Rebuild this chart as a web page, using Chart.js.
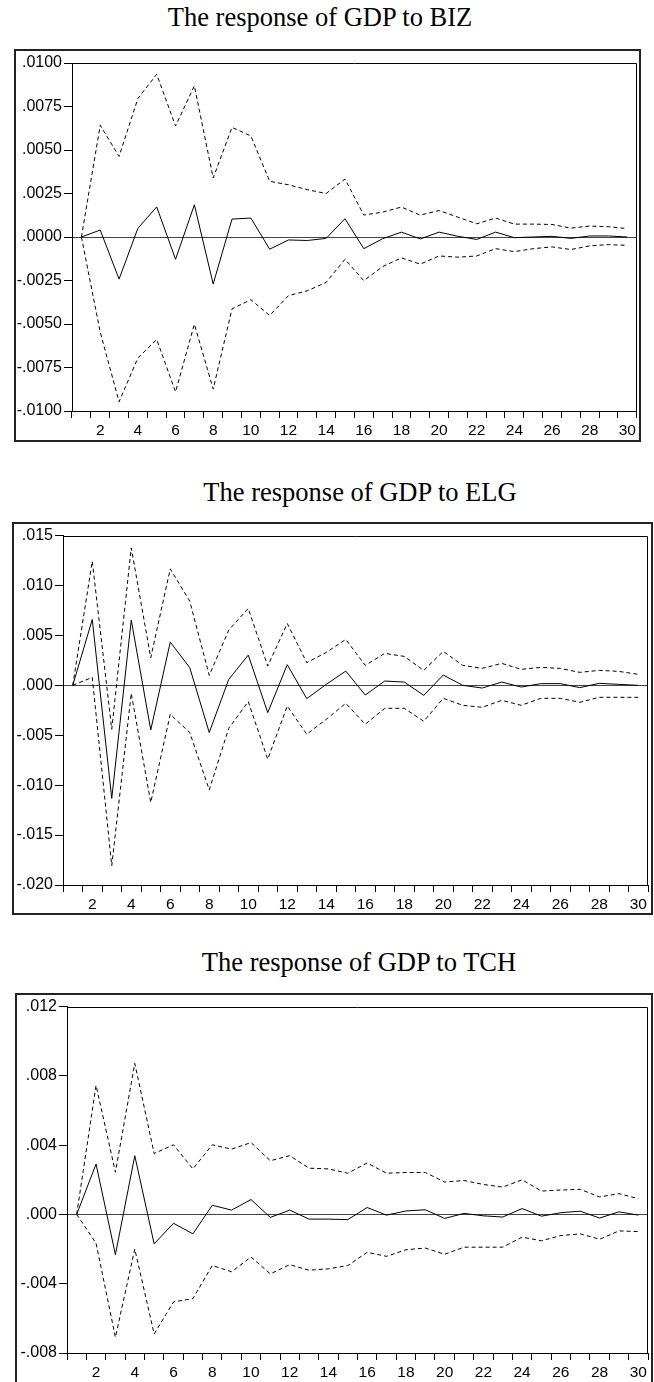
<!DOCTYPE html>
<html>
<head>
<meta charset="utf-8">
<script src="https://cdn.jsdelivr.net/npm/chart.js@4/dist/chart.umd.min.js"></script>
<style>
  html, body { margin: 0; padding: 0; background: #fff; }
  body { width: 654px; height: 1382px; position: relative; overflow: hidden; }
  .title {
    position: absolute; width: 400px; text-align: center; white-space: nowrap;
    font-family: "Liberation Serif", "Times New Roman", serif;
    font-size: 26.5px; line-height: 27px; color: #000;
  }
  .frame { position: absolute; box-sizing: border-box; border: 2px solid #222; }
  canvas { position: absolute; }
</style>
</head>
<body>
<div class="title" id="t1">The response of GDP to BIZ</div>
<div class="title" id="t2">The response of GDP to ELG</div>
<div class="title" id="t3">The response of GDP to TCH</div>
<div class="frame" id="f1"></div><canvas id="c1"></canvas>
<div class="frame" id="f2"></div><canvas id="c2"></canvas>
<div class="frame" id="f3"></div><canvas id="c3"></canvas>
<script>
// periods 1..30
const periods = [1, 2, 3, 4, 5, 6, 7, 8, 9, 10, 11, 12, 13, 14, 15,
                 16, 17, 18, 19, 20, 21, 22, 23, 24, 25, 26, 27, 28, 29, 30];

// GDP to BIZ
const bizResponse = [0, 0.0004, -0.00242, 0.0005, 0.00173, -0.00128, 0.00185, -0.0027, 0.00103, 0.00109,
  -0.0007, -0.00017, -0.0002, -0.00008, 0.00105, -0.00067, -0.0001, 0.00028, -0.00011, 0.00028,
  0.00004, -0.00014, 0.00028, -0.00004, 0, 0.00004, -0.00008, 0.00006, 0.00006, 0];
const bizUpper = [0, 0.00642, 0.00463, 0.00796, 0.00935, 0.00638, 0.00869, 0.00339, 0.0063, 0.00581,
  0.0032, 0.003, 0.00272, 0.0025, 0.00333, 0.00126, 0.00143, 0.00172, 0.00126, 0.00152,
  0.00114, 0.00076, 0.00109, 0.00074, 0.00074, 0.00072, 0.00051, 0.00063, 0.00059, 0.00048];
const bizLower = [0, -0.00547, -0.00947, -0.00695, -0.00589, -0.0089, -0.00501, -0.00874, -0.00413, -0.0036,
  -0.00451, -0.00337, -0.00309, -0.00261, -0.00128, -0.00251, -0.0017, -0.0012, -0.00156, -0.00109,
  -0.00116, -0.00109, -0.00067, -0.00084, -0.00067, -0.00057, -0.00072, -0.00051, -0.00044, -0.00048];
const bizTickValues = [-0.01, -0.0075, -0.005, -0.0025, 0, 0.0025, 0.005, 0.0075, 0.01];
const bizTickLabels = ['-.0100', '-.0075', '-.0050', '-.0025', '.0000', '.0025', '.0050', '.0075', '.0100'];

// GDP to ELG
const elgResponse = [0, 0.0066, -0.01133, 0.00653, -0.00447, 0.00433, 0.00177, -0.00473, 0.0006, 0.00303,
  -0.00273, 0.00207, -0.00133, 0.0001, 0.00143, -0.00097, 0.00043, 0.00033, -0.001, 0.00103,
  0, -0.00027, 0.00033, -0.00017, 0.00017, 0.00017, -0.00023, 0.0002, 0.0001, 0];
const elgUpper = [0, 0.01243, -0.0044, 0.01377, 0.00277, 0.01167, 0.00843, 0.001, 0.00553, 0.0077,
  0.00193, 0.0062, 0.00227, 0.0033, 0.0046, 0.002, 0.0032, 0.0029, 0.0015, 0.0034,
  0.002, 0.0017, 0.0022, 0.0016, 0.0018, 0.0017, 0.0013, 0.0015, 0.0014, 0.0011];
const elgLower = [0, 0.0008, -0.01807, -0.0008, -0.01173, -0.0029, -0.00473, -0.01047, -0.0043, -0.00163,
  -0.0074, -0.00207, -0.0049, -0.0034, -0.0018, -0.0039, -0.0023, -0.0023, -0.0036, -0.0013,
  -0.002, -0.0022, -0.0015, -0.002, -0.0013, -0.0013, -0.0017, -0.0012, -0.0012, -0.0012];
const elgTickValues = [-0.02, -0.015, -0.01, -0.005, 0, 0.005, 0.01, 0.015];
const elgTickLabels = ['-.020', '-.015', '-.010', '-.005', '.000', '.005', '.010', '.015'];

// GDP to TCH
const tchResponse = [0, 0.00291, -0.00232, 0.00339, -0.0017, -0.00051, -0.00112, 0.00053, 0.00025, 0.00086,
  -0.00017, 0.00025, -0.00027, -0.00027, -0.0003, 0.0004, -0.00004, 0.0002, 0.00027, -0.00023,
  0.00006, -0.00008, -0.00015, 0.00034, -0.0001, 0.0001, 0.00019, -0.00021, 0.00015, -0.00004];
const tchUpper = [0, 0.00745, 0.00244, 0.00872, 0.00352, 0.00402, 0.00263, 0.00402, 0.00377, 0.00415,
  0.0031, 0.00339, 0.00267, 0.00263, 0.00238, 0.00297, 0.00238, 0.00242, 0.00242, 0.00187,
  0.00196, 0.00173, 0.00158, 0.002, 0.00135, 0.00141, 0.00145, 0.00101, 0.0012, 0.00091];
const tchLower = [0, -0.00166, -0.00709, -0.002, -0.0069, -0.00505, -0.00486, -0.00295, -0.00331, -0.00246,
  -0.00343, -0.0029, -0.00322, -0.00314, -0.00295, -0.00219, -0.00242, -0.00204, -0.00194, -0.0023,
  -0.00189, -0.00189, -0.00189, -0.00131, -0.00152, -0.00122, -0.00112, -0.00143, -0.00095, -0.00099];
const tchTickValues = [-0.008, -0.004, 0, 0.004, 0.008, 0.012];
const tchTickLabels = ['-.008', '-.004', '.000', '.004', '.008', '.012'];

Chart.defaults.font.family = '"Liberation Sans", Arial, sans-serif';
Chart.defaults.font.size = 15.5;
Chart.defaults.color = '#000';

// top and right edges of the plot box
const boxPlugin = {
  id: 'box',
  afterDraw(chart) {
    const a = chart.chartArea, c = chart.ctx;
    c.save();
    c.strokeStyle = '#000';
    c.lineWidth = 1;
    c.beginPath();
    c.moveTo(Math.round(a.left) + 0.5, Math.round(a.top) + 0.5);
    c.lineTo(Math.round(a.right) - 0.5, Math.round(a.top) + 0.5);
    c.lineTo(Math.round(a.right) - 0.5, Math.round(a.bottom));
    c.stroke();
    c.restore();
  }
};

function makePanel(n, titleX, titleTop, frame, plot, resp, up, low, tickValues, tickLabels) {
  const t = document.getElementById('t' + n);
  t.style.left = (titleX - 200) + 'px';
  t.style.top = titleTop + 'px';

  const f = document.getElementById('f' + n);
  f.style.left = frame.l + 'px';
  f.style.top = frame.t + 'px';
  f.style.width = (frame.r - frame.l) + 'px';
  f.style.height = (frame.b - frame.t) + 'px';

  const cv = document.getElementById('c' + n);
  const cl = frame.l + 2, ct = frame.t + 2;
  const cw = frame.r - frame.l - 4, ch = frame.b - frame.t - 4;
  cv.style.left = cl + 'px';
  cv.style.top = ct + 'px';
  cv.width = cw;
  cv.height = ch;

  const dashed = { borderColor: '#000', borderWidth: 1, borderDash: [4, 3] };

  new Chart(cv, {
    type: 'line',
    data: {
      labels: periods,
      datasets: [
        { data: up, ...dashed },
        { data: low, ...dashed },
        { data: resp, borderColor: '#000', borderWidth: 1 }
      ]
    },
    options: {
      responsive: false,
      animation: false,
      devicePixelRatio: 1,
      elements: { point: { radius: 0 }, line: { tension: 0 } },
      layout: { padding: { left: 0, top: plot.t - ct, right: (cl + cw) - plot.r, bottom: 0 } },
      plugins: { legend: { display: false }, tooltip: { enabled: false } },
      scales: {
        x: {
          offset: true,
          grid: { offset: true, drawOnChartArea: false, drawTicks: true, tickLength: 7, tickColor: '#000' },
          border: { display: true, color: '#000' },
          ticks: {
            autoSkip: false, maxRotation: 0, padding: 3,
            callback: (v, i) => (periods[i] % 2 === 0 ? String(periods[i]) : '')
          },
          afterFit: (s) => { s.height = (ct + ch) - plot.b; }
        },
        y: {
          min: tickValues[0],
          max: tickValues[tickValues.length - 1],
          afterBuildTicks: (s) => { s.ticks = tickValues.map(v => ({ value: v })); },
          grid: {
            drawTicks: true, tickLength: 8, tickColor: '#000',
            color: (ctx) => (ctx.tick && ctx.tick.value === 0 ? '#444' : 'rgba(0,0,0,0)')
          },
          border: { display: true, color: '#000' },
          ticks: { padding: 2, font: { size: 16 }, callback: (v, i) => tickLabels[i] },
          afterFit: (s) => { s.width = plot.l - cl; }
        }
      }
    },
    plugins: [boxPlugin]
  });
}

makePanel(1, 320, 4, { l: 14, t: 49, r: 641, b: 442 }, { l: 72, t: 63, r: 637, b: 411 },
  bizResponse, bizUpper, bizLower, bizTickValues, bizTickLabels);
makePanel(2, 360, 479, { l: 12, t: 522, r: 653, b: 915 }, { l: 63, t: 534, r: 648, b: 885 },
  elgResponse, elgUpper, elgLower, elgTickValues, elgTickLabels);
makePanel(3, 359, 949, { l: 15, t: 993, r: 653, b: 1384 }, { l: 67, t: 1004, r: 648, b: 1353 },
  tchResponse, tchUpper, tchLower, tchTickValues, tchTickLabels);
</script>
</body>
</html>
